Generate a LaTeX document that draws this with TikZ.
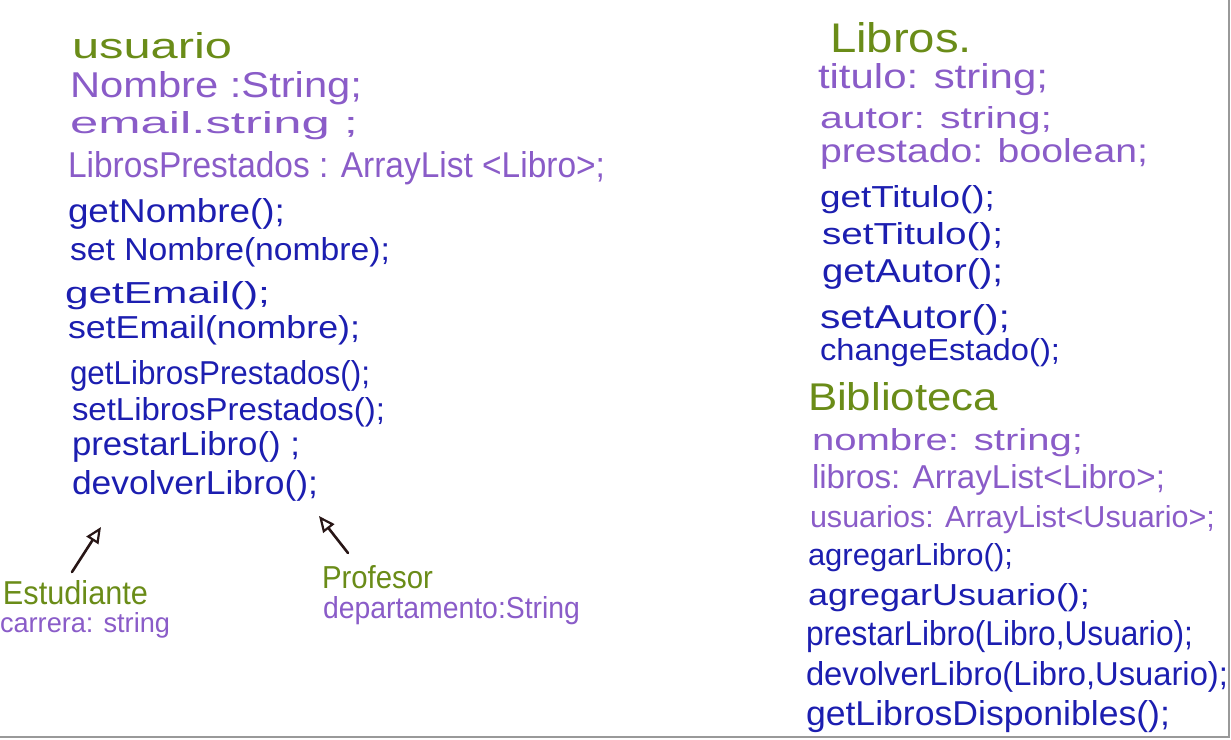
\documentclass[tikz,border=0pt]{standalone}
\usepackage{fontspec}
\setmainfont{Liberation Sans}
\usepackage{graphicx}
\usetikzlibrary{arrows.meta}
\newlength\px \setlength\px{0.5pt}
\newcommand\tx[3]{\resizebox{#1\px}{#2\px}{#3}}
\definecolor{hgreen}{RGB}{106,140,24}
\definecolor{hpurple}{RGB}{138,92,200}
\definecolor{hblue}{RGB}{28,30,176}
\definecolor{hink}{RGB}{40,22,22}
\tikzset{
  txt/.style={anchor=base west, inner sep=0pt, outer sep=0pt},
  head/.style={txt, text=hgreen},
  attr/.style={txt, text=hpurple},
  meth/.style={txt, text=hblue},
  inherit/.style={draw=hink, line width=1.3pt, line cap=round,
    -{Triangle[open, length=8pt, width=7pt, line width=1.1pt]}},
  frame/.style={draw=black!40, line width=0.6pt}
}
\begin{document}
\begin{tikzpicture}[x=0.5pt, y=-0.5pt]
\useasboundingbox (0,0) rectangle (1231,739);
\draw[frame] (1229,0) -- (1229,737) -- (0,737);
% Usuario
\node[head] (u0) at (72,58) {\tx{160}{26}{usuario}};
\node[attr] (u1) at (70,97) {\tx{292}{26}{Nombre :String;}};
\node[attr] (u2) at (70,133) {\tx{288}{22}{email.string ;}};
\node[attr] (u3) at (68,177) {\tx{537}{26}{LibrosPrestados : ArrayList <Libro>;}};
\node[meth] (u4) at (68,222) {\tx{217}{24}{getNombre();}};
\node[meth] (u5) at (70,260) {\tx{320}{23}{set Nombre(nombre);}};
\node[meth] (u6) at (65,303) {\tx{205}{22}{getEmail();}};
\node[meth] (u7) at (68,338) {\tx{292}{23}{setEmail(nombre);}};
\node[meth] (u8) at (70,384) {\tx{300}{24}{getLibrosPrestados();}};
\node[meth] (u9) at (72,420) {\tx{313}{23}{setLibrosPrestados();}};
\node[meth] (u10) at (72,455) {\tx{228}{24}{prestarLibro() ;}};
\node[meth] (u11) at (72,494) {\tx{246}{24}{devolverLibro();}};
% Subclasses
\node[head] (e0) at (3,604) {\tx{145}{24}{Estudiante}};
\node[attr] (e1) at (0,632) {\tx{170}{20}{carrera: string}};
\node[head] (p0) at (322,588) {\tx{111}{23}{Profesor}};
\node[attr] (p1) at (323,618) {\tx{257}{22}{departamento:String}};
\coordinate (et) at (72,572);
\coordinate (eh) at (101,527);
\coordinate (pt) at (348,553);
\coordinate (ph) at (319,516);
\draw[inherit] (et) -- (eh);
\draw[inherit] (pt) -- (ph);
% Libros
\node[head] (l0) at (830,52) {\tx{142}{30}{Libros.}};
\node[attr] (l1) at (818,88) {\tx{230}{25}{titulo: string;}};
\node[attr] (l2) at (820,128) {\tx{232}{22}{autor: string;}};
\node[attr] (l3) at (820,162) {\tx{328}{24}{prestado: boolean;}};
\node[meth] (l4) at (820,207) {\tx{175}{22}{getTitulo();}};
\node[meth] (l5) at (822,244) {\tx{181}{22}{setTitulo();}};
\node[meth] (l6) at (822,282) {\tx{181}{24}{getAutor();}};
\node[meth] (l7) at (820,328) {\tx{190}{24}{setAutor();}};
\node[meth] (l8) at (820,360) {\tx{240}{22}{changeEstado();}};
% Biblioteca
\node[head] (b0) at (808,410) {\tx{190}{28}{Biblioteca}};
\node[attr] (b1) at (812,450) {\tx{271}{22}{nombre: string;}};
\node[attr] (b2) at (812,488) {\tx{353}{24}{libros: ArrayList<Libro>;}};
\node[attr] (b3) at (810,527) {\tx{405}{22}{usuarios: ArrayList<Usuario>;}};
\node[meth] (b4) at (808,565) {\tx{205}{22}{agregarLibro();}};
\node[meth] (b5) at (808,605) {\tx{282}{22}{agregarUsuario();}};
\node[meth] (b6) at (806,645) {\tx{387}{25}{prestarLibro(Libro,Usuario);}};
\node[meth] (b7) at (806,685) {\tx{422}{24}{devolverLibro(Libro,Usuario);}};
\node[meth] (b8) at (806,725) {\tx{364}{25}{getLibrosDisponibles();}};
\end{tikzpicture}
\end{document}
